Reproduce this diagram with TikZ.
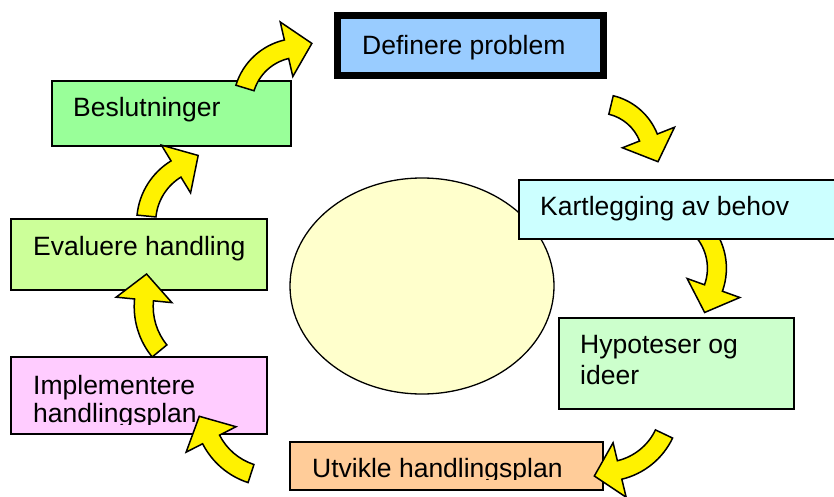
\documentclass[tikz,border=0pt]{standalone}
\usepackage{fontspec}
\setmainfont{Liberation Sans}
\usetikzlibrary{calc}

\definecolor{defblue}{HTML}{99CCFF}
\definecolor{beslgreen}{HTML}{99FF99}
\definecolor{evalgreen}{HTML}{CCFF99}
\definecolor{implpink}{HTML}{FFCCFF}
\definecolor{utvorange}{HTML}{FFCC99}
\definecolor{hypgreen}{HTML}{CCFFCC}
\definecolor{kartcyan}{HTML}{CCFFFF}
\definecolor{midyellow}{HTML}{FFFFCC}

% curved yellow block arrow: centre x, centre y, radius, start angle, end angle (clockwise)
\newcommand{\yarrow}[5]{%
\draw[yarrowfill] ($(#1,#2)+({#4}:{#3+9.5})$) arc[start angle=#4,end angle=#5,radius=#3+9.5]
  -- ($(#1,#2)+({#5}:{#3+28})$) -- ($(#1,#2)+({#5}:{#3})+({#5-90}:26)$)
  -- ($(#1,#2)+({#5}:{#3-28})$) -- ($(#1,#2)+({#5}:{#3-9.5})$)
  arc[start angle=#5,end angle=#4,radius=#3-9.5] -- cycle;}

\begin{document}
\begin{tikzpicture}[x=1pt,y=1pt,
  box/.style={draw=black,line width=1.5pt,inner sep=0pt},
  txt/.style={inner sep=0pt,anchor=base west,font=\fontsize{26.5}{30}\selectfont},
  yarrowfill/.style={draw=black,fill=yellow,line width=1.5pt,line join=miter}]
\useasboundingbox (0,0) rectangle (834,496);

% middle
\draw[fill=midyellow,line width=1.3pt] (422,210) ellipse [x radius=132,y radius=108];

% arrow hidden behind the box above it
\yarrow{658.7}{227.7}{58.2}{42}{-19.8}

% boxes
\node[box,fill=defblue,line width=7pt,minimum width=266pt,minimum height=60pt] (def) at (470.5,450.5) {};
\node[txt] (defText) at (362,441) {Definere problem};

\node[box,fill=kartcyan,minimum width=326pt,minimum height=59pt] (kart) at (682,286.5) {};
\node[txt] (kartText) at (540,281) {Kartlegging av behov};

\node[box,fill=hypgreen,minimum width=235pt,minimum height=91pt] (hyp) at (676.5,132.5) {};
\node[txt] (hypA) at (580,143) {Hypoteser og};
\node[txt] (hypB) at (580,112) {ideer};

\node[box,fill=utvorange,minimum width=313pt,minimum height=48pt] (utv) at (446.5,30) {};
\begin{scope}
\clip (290,17) rectangle (603,54);
\node[txt] (utvText) at (312,19) {Utvikle handlingsplan};
\end{scope}

\node[box,fill=implpink,minimum width=256pt,minimum height=77pt] (impl) at (139,100.5) {};
\node[txt] (implA) at (33,102) {Implementere};
\begin{scope}
\clip (11,72) rectangle (267,139);
\node[txt] (implB) at (33,74) {handlingsplan};
\end{scope}

\node[box,fill=evalgreen,minimum width=256pt,minimum height=71pt] (eval) at (139,241.5) {};
\node[txt] (evalText) at (33,241) {Evaluere handling};

\node[box,fill=beslgreen,minimum width=239pt,minimum height=65pt] (besl) at (171.5,382.5) {};
\node[txt] (beslText) at (73,379) {Beslutninger};

% arrows on top
\yarrow{299.3}{391.4}{56.8}{163}{103}
\yarrow{598.5}{338.8}{53.7}{76.5}{21.5}
\yarrow{604.1}{90.6}{66.4}{-25.5}{-76.5}
\yarrow{272.2}{87.7}{68.6}{252}{207}
\yarrow{213.4}{189.3}{69.7}{219.4}{174.4}
\yarrow{208.4}{273.9}{62.2}{174.4}{121.4}
\end{tikzpicture}
\end{document}
